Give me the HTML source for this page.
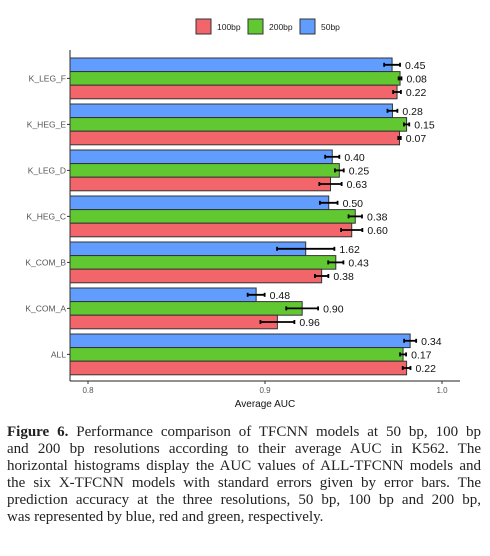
<!DOCTYPE html>
<html><head><meta charset="utf-8">
<style>
html,body{margin:0;padding:0;background:#fff;width:490px;height:556px;overflow:hidden}
#chart{position:absolute;left:0;top:0}
.cap{position:absolute;left:7px;width:474px;font-family:"Liberation Serif",serif;font-size:15px;color:#222;text-align:justify;text-align-last:justify;white-space:nowrap;line-height:17px}
.cap.last{text-align-last:left}
</style></head><body>
<svg id="chart" width="490" height="420" xmlns="http://www.w3.org/2000/svg"></svg>
<div>
<div class="cap" style="top:424px"><b>Figure 6.</b> Performance comparison of TFCNN models at 50 bp, 100 bp</div>
<div class="cap" style="top:441px">and 200 bp resolutions according to their average AUC in K562. The</div>
<div class="cap" style="top:458px">horizontal histograms display the AUC values of ALL-TFCNN models and</div>
<div class="cap" style="top:475px">the six X-TFCNN models with standard errors given by error bars. The</div>
<div class="cap" style="top:492px">prediction accuracy at the three resolutions, 50 bp, 100 bp and 200 bp,</div>
<div class="cap last" style="top:509px">was represented by blue, red and green, respectively.</div>
</div>
<script>
const categories=["K_LEG_F","K_HEG_E","K_LEG_D","K_HEG_C","K_COM_B","K_COM_A","ALL"];
const series=["50bp","200bp","100bp"];
const vals50=[0.9718,0.972,0.938,0.936,0.923,0.895,0.982];
const vals200=[0.9763,0.980,0.942,0.951,0.940,0.921,0.978];
const vals100=[0.9746,0.976,0.937,0.949,0.932,0.907,0.980];
const err50=[0.45,0.28,0.40,0.50,1.62,0.48,0.34];
const err200=[0.08,0.15,0.25,0.38,0.43,0.90,0.17];
const err100=[0.22,0.07,0.63,0.60,0.38,0.96,0.22];
const xTicks=[0.8,0.9,1.0];
const xTickLabels=["0.8","0.9","1.0"];
const legendLabels=["100bp","200bp","50bp"];
const colors={"50bp":"#619cff","200bp":"#61c832","100bp":"#f2656a"};

const svg=document.getElementById('chart');
const NS="http://www.w3.org/2000/svg";
function mk(t,a,p){const e=document.createElementNS(NS,t);for(const k in a)e.setAttribute(k,a[k]);(p||svg).appendChild(e);return e;}
const X0=70;
const x=v=>88+(v-0.8)*1770;
const groupTop=i=>58+i*46;
const BH=13.6;
const data={"50bp":[vals50,err50],"200bp":[vals200,err200],"100bp":[vals100,err100]};

const ax=mk('line',{x1:X0,y1:50,x2:X0,y2:381,stroke:'#222','stroke-width':1});


const axx=mk('line',{x1:X0,y1:381,x2:460,y2:381,stroke:'#222','stroke-width':1});



categories.forEach((c,i)=>{
  const g=mk('g',{});
  
  
  series.forEach((s,j)=>{
    const v=data[s][0][i], e=data[s][1][i]/100;
    const y=groupTop(i)+j*BH;
    const r=mk('rect',{x:X0,y:y,width:x(v)-X0,height:BH,fill:colors[s],stroke:'#333','stroke-width':1},g);
    
    
    const cy=y+BH/2;
    const eb=mk('g',{stroke:'#000','stroke-width':1.8},g);
    
    
    mk('line',{x1:x(v-e),y1:cy,x2:x(v+e),y2:cy},eb);
    mk('line',{x1:x(v-e),y1:cy-2,x2:x(v-e),y2:cy+2},eb);
    mk('line',{x1:x(v+e),y1:cy-2,x2:x(v+e),y2:cy+2},eb);
    const t=mk('text',{x:x(v+e)+5,y:cy+4,'font-family':'Liberation Sans, sans-serif','font-size':10.5,fill:'#111'},g);
    t.textContent=data[s][1][i].toFixed(2);
    
    
  });
  const cy=groupTop(i)+BH*1.5;
  mk('line',{x1:X0-3,y1:cy,x2:X0,y2:cy,stroke:'#333'},g);
  const tl=mk('text',{x:X0-4,y:cy+3,'text-anchor':'end','font-family':'Liberation Sans, sans-serif','font-size':8.5,fill:'#555'},g);
  tl.textContent=c;
  
  
});

xTicks.forEach((t,i)=>{
  mk('line',{x1:x(t),y1:381,x2:x(t),y2:384,stroke:'#333'});
  const tl=mk('text',{x:x(t),y:393,'text-anchor':'middle','font-family':'Liberation Sans, sans-serif','font-size':8,fill:'#555'});
  tl.textContent=xTickLabels[i];
  
  
});
const xt=mk('text',{x:265,y:407,'text-anchor':'middle','font-family':'Liberation Sans, sans-serif','font-size':10,fill:'#111'});
xt.textContent='Average  AUC';



const lx=[196,248,300];
legendLabels.forEach((l,i)=>{
  const g=mk('g',{});
  
  
  mk('rect',{x:lx[i],y:19,width:15,height:15,fill:colors[l],stroke:'#333','stroke-width':1},g);
  const t=mk('text',{x:lx[i]+21,y:30,'font-family':'Liberation Sans, sans-serif','font-size':8.5,fill:'#222'},g);
  t.textContent=l;
});
</script>
</body></html>
